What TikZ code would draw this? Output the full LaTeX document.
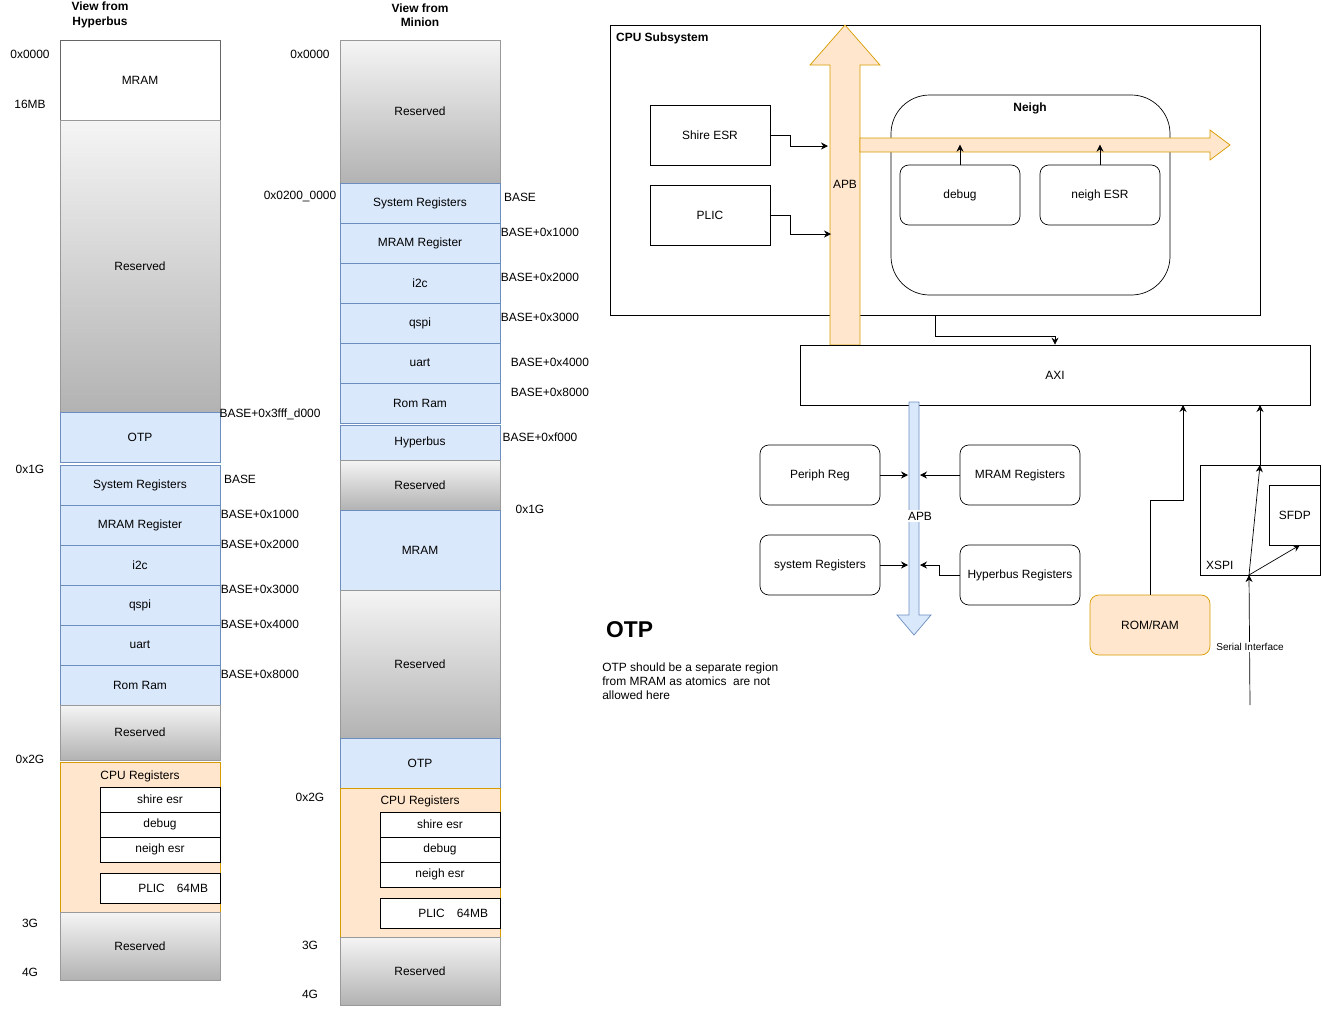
\documentclass[tikz,border=0pt]{standalone}
\usepackage{fontspec}
\setmainfont{Liberation Sans}
\usetikzlibrary{arrows.meta}
\definecolor{blueF}{HTML}{DAE8FC}
\definecolor{blueD}{HTML}{6C8EBF}
\definecolor{orgF}{HTML}{FFE6CC}
\definecolor{orgD}{HTML}{D79B00}
\tikzset{
  every node/.style={font=\fontsize{6.8}{8.2}\selectfont},
  grey/.style={draw=black!40,top color=black!4,bottom color=black!30},
  blue/.style={draw=blueD,fill=blueF},
  org/.style={draw=orgD,fill=orgF},
  plain/.style={draw=black,fill=white},
  box/.style={draw,fill=white,minimum width=2.4cm,minimum height=1.2cm},
  rbox/.style={box,rounded corners=5pt},
  arr/.style={-{Stealth[length=4pt,width=4pt]}},
  ttl/.style={font=\fontsize{6.8}{8.2}\selectfont\bfseries,align=center},
}
\newcommand{\blk}[6]{\path[#5] (#1,#2) rectangle (#3,#4);
  \node at ({(#1+#3)/2},{(#2+#4)/2}) {#6};}
\begin{document}
\begin{tikzpicture}[x=0.02cm,y=-0.02cm]
\useasboundingbox (0,0) rectangle (1323,1012);

% view from hyperbus
\node[ttl] at (100,15) {View from\\Hyperbus};
\blk{60}{40}{220}{120}{plain,draw=black!60}{MRAM}
\blk{60}{120}{220}{412}{grey}{Reserved}
\blk{60}{412}{220}{462}{blue}{OTP}
\foreach \t [count=\i from 0] in {System Registers,MRAM Register,i2c,qspi,uart,Rom Ram}
  {\blk{60}{465+40*\i}{220}{505+40*\i}{blue}{\t}}
\blk{60}{705}{220}{760}{grey}{Reserved}
\path[org] (60,762) rectangle (220,912);
\node at (140,776) {CPU Registers};
\foreach \t [count=\i from 0] in {shire esr,debug,neigh esr}
  {\blk{100}{787+25*\i}{220}{812+25*\i}{plain}{\t}}
\blk{100}{873}{220}{903}{plain}{\hspace*{2.2em}PLIC\quad 64MB}
\blk{60}{912}{220}{980}{grey}{Reserved}
\node at (30,54) {0x0000};
\node at (30,104) {16MB};
\node at (30,469) {0x1G};
\node at (30,759) {0x2G};
\node at (30,923) {3G};
\node at (30,972) {4G};
\node at (270,414) {BASE+0x3fff\_d000};
\node at (240,479) {BASE};
\node at (260,514) {BASE+0x1000};
\node at (260,544) {BASE+0x2000};
\node at (260,589) {BASE+0x3000};
\node at (260,624) {BASE+0x4000};
\node at (260,674) {BASE+0x8000};

% view from minion
\node[ttl] at (420,15) {View from\\Minion};
\blk{340}{40}{500}{183}{grey}{Reserved}
\foreach \t [count=\i from 0] in {System Registers,MRAM Register,i2c,qspi,uart,Rom Ram}
  {\blk{340}{183+40*\i}{500}{223+40*\i}{blue}{\t}}
\blk{340}{425}{500}{460}{blue}{Hyperbus}
\blk{340}{460}{500}{510}{grey}{Reserved}
\blk{340}{510}{500}{590}{blue}{MRAM}
\blk{340}{590}{500}{738}{grey}{Reserved}
\blk{340}{738}{500}{788}{blue}{OTP}
\path[org] (340,788) rectangle (500,937);
\node at (420,801) {CPU Registers};
\foreach \t [count=\i from 0] in {shire esr,debug,neigh esr}
  {\blk{380}{812+25*\i}{500}{837+25*\i}{plain}{\t}}
\blk{380}{898}{500}{928}{plain}{\hspace*{2.2em}PLIC\quad 64MB}
\blk{340}{937}{500}{1005}{grey}{Reserved}
\node at (310,54) {0x0000};
\node at (300,197) {0x0200\_0000};
\node at (310,797) {0x2G};
\node at (310,945) {3G};
\node at (310,994) {4G};
\node at (520,197) {BASE};
\node at (540,232) {BASE+0x1000};
\node at (540,277) {BASE+0x2000};
\node at (540,317) {BASE+0x3000};
\node at (550,362) {BASE+0x4000};
\node at (550,392) {BASE+0x8000};
\node at (540,437) {BASE+0xf000};
\node at (530,509) {0x1G};

% cpu subsystem
\draw (610,25) rectangle (1260,315);
\node[anchor=west,font=\fontsize{6.8}{8.2}\selectfont\bfseries] at (610,38) {CPU Subsystem};
\node[box] (shire) at (710,135) {Shire ESR};
\node[box] (plic) at (710,215) {PLIC};
\draw[rounded corners=22pt] (891,95) rectangle (1170,295);
\node[font=\fontsize{6.8}{8.2}\selectfont\bfseries] at (1030,108) {Neigh};
\node[rbox] (debug) at (960,195) {debug};
\node[rbox] (nesr) at (1100,195) {neigh ESR};
\path[org] (830,345) -- (830,65) -- (810,65) -- (845,25) -- (880,65) -- (860,65) -- (860,345) -- cycle;
\node at (845,184) {APB};
\path[org] (860,138) -- (1210,138) -- (1210,130) -- (1230,145) -- (1210,160) -- (1210,152) -- (860,152) -- cycle;
\coordinate (apbA) at (828,146);
\coordinate (apbB) at (831,234);
\draw[arr] (shire.east) -| ++(20,11) |- (apbA);
\draw[arr] (plic.east) -| ++(20,19) |- (apbB);
\draw[arr] (debug.north) -- ++(0,-20);
\draw[arr] (nesr.north) -- ++(0,-20);

% axi and apb
\node[draw,minimum width=10.2cm,minimum height=1.2cm] (axi) at (1055,375) {AXI};
\draw[arr] (935,315) |- (1055,336) -- (axi.north);
\path[blue] (909,402) -- (919,402) -- (919,615) -- (931,615) -- (914,635) -- (897,615) -- (909,615) -- cycle;
\node[fill=white,inner sep=1pt] at (920,516) {APB};
\node[rbox] (periph) at (820,475) {Periph Reg};
\node[rbox] (mramr) at (1020,475) {MRAM Registers};
\node[rbox] (sysr) at (820,565) {system Registers};
\node[rbox] (hypr) at (1020,575) {Hyperbus Registers};
\draw[arr] (periph.east) -- (908,475);
\draw[arr] (mramr.west) -- (920,475);
\draw[arr] (sysr.east) -- (908,565);
\draw[arr] (hypr.west) -- ++(-20,0) |- (920,565);

% rom/ram and xspi
\node[rbox,org] (rom) at (1150,625) {ROM/RAM};
\draw[arr] (rom.north) |- (1183,500) -- (1183,405);
\draw (1200,465) rectangle (1320,575);
\node[anchor=west] at (1200,565) {XSPI};
\node[draw,minimum width=1.02cm,minimum height=1.2cm,anchor=north west] (sfdp) at (1269,485) {SFDP};
\coordinate (sin) at (1250,705);
\coordinate (xin) at (1249,575);
\coordinate (xout) at (1260,465);
\draw[arr] (sin) -- (xin);
\draw[arr] (xin) -- (xout);
\draw[arr] (xout) -- (1260,405);
\draw[arr] (xin) -- (1300,545);
\node[fill=white,inner sep=1pt,font=\fontsize{5.7}{7}\selectfont] at (1250,647) {Serial Interface};

% otp note
\node[anchor=west,font=\fontsize{13}{15}\selectfont\bfseries] at (600,630) {OTP};
\node[anchor=north west,align=left,inner sep=0pt] at (602,662) {OTP should be a separate region\\from MRAM as atomics\ \ are not\\allowed here};
\end{tikzpicture}
\end{document}
